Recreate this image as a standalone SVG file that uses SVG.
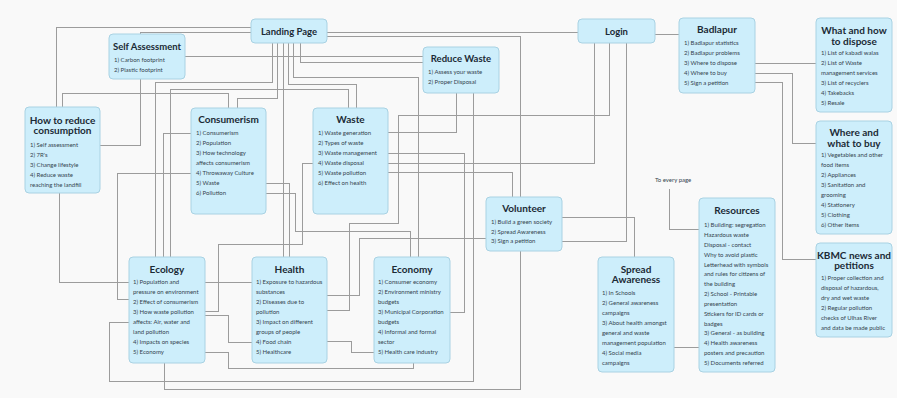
<svg xmlns="http://www.w3.org/2000/svg" width="897" height="398" viewBox="0 0 897 398">
<style>
.bg{fill:#f9f9f9}
.box{fill:#cdeefb;stroke:#a9d2e3;stroke-width:1}
.t{font-family:Lato,"Open Sans",sans-serif;font-weight:700;fill:#1b2a35;text-anchor:middle}
.s{font-size:9.5px}
.b{font-size:10px}
.i{font-family:Lato,"Open Sans",sans-serif;font-size:6px;fill:#34444f}
.c path{fill:none;stroke:#9c9c9c;stroke-width:1;shape-rendering:crispEdges}
</style>
<rect class="bg" x="0" y="0" width="897" height="398"/>
<g class="c" id="connectors">
<path d="M56,107 V27 H251"/>
<path d="M140,34 V32 H251"/>
<path d="M327,32 H578"/>
<path d="M327,36 H520 V197"/>
<path d="M185,56 H423"/>
<path d="M300,43 V62 H423"/>
<path d="M140,79 V145 H100"/>
<path d="M62,107 V93 H228 V108"/>
<path d="M277,43 V98 H237 V108"/>
<path d="M272,43 V82 H155 V257"/>
<path d="M191,133 H163 V257"/>
<path d="M348,108 V89 H170 V257"/>
<path d="M191,173 H117 V299 H129"/>
<path d="M59,193 V282 H129"/>
<path d="M288,43 V84 H356 V108"/>
<path d="M293,43 V77 H418 V257"/>
<path d="M283,43 V257"/>
<path d="M266,183 H289 V257"/>
<path d="M266,193 H295 V231 H410 V257"/>
<path d="M313,163 H302 V244 H218 V311 H205"/>
<path d="M456,93 V132 H388"/>
<path d="M473,93 V381 H109 V322 H129"/>
<path d="M388,153 H464 V312 H450"/>
<path d="M594,43 V163 H388"/>
<path d="M388,172 H512 V197"/>
<path d="M327,295 H359 V238 H486"/>
<path d="M327,310 H349 V223 H398 V115 H609 V43"/>
<path d="M327,341 H351 V352 H374"/>
<path d="M205,282 H252"/>
<path d="M205,315 H228 V342 H252"/>
<path d="M205,352 H228 V368 H413 V363"/>
<path d="M164,363 V389 H520 V251"/>
<path d="M562,217 H634 V257"/>
<path d="M626,43 V241 H562"/>
<path d="M655,34 H679"/>
<path d="M755,63 H816"/>
<path d="M755,73 H792 V143 H816"/>
<path d="M755,82 H782 V259 H816"/>
<path d="M669,189 V229 H699"/>
<path d="M674,347 H699"/>
</g>
<text class="i" x="655" y="182">To every page</text>
<g id="landing"><rect class="box" x="251" y="19" width="76" height="24" rx="4"/><text class="t s" x="289" y="34.5">Landing Page</text></g>
<g id="login"><rect class="box" x="578" y="19" width="77" height="24" rx="4"/><text class="t s" x="616.5" y="34.5">Login</text></g>
<g id="selfassessment"><rect class="box" x="109" y="34" width="76" height="45" rx="4"/><text class="t s" x="147" y="50">Self Assessment</text>
<text class="i" x="114" y="62">1) Carbon footprint</text><text class="i" x="114" y="72">2) Plastic footprint</text></g>
<g id="reducewaste"><rect class="box" x="423" y="47" width="76" height="46" rx="4"/><text class="t s" x="461" y="62">Reduce Waste</text>
<text class="i" x="428" y="74">1) Assess your waste</text><text class="i" x="428" y="84">2) Proper Disposal</text></g>
<g id="badlapur"><rect class="box" x="679" y="18" width="76" height="75" rx="4"/><text class="t b" x="717" y="33">Badlapur</text>
<text class="i" x="684" y="45">1) Badlapur statistics</text><text class="i" x="684" y="55">2) Badlapur problems</text><text class="i" x="684" y="65">3) Where to dispose</text><text class="i" x="684" y="75">4) Where to buy</text><text class="i" x="684" y="85">5) Sign a petition</text></g>
<g id="dispose"><rect class="box" x="816" y="18" width="76" height="94" rx="4"/><text class="t b" x="854" y="33.5">What and how</text><text class="t b" x="854" y="44.5">to dispose</text>
<text class="i" x="821" y="55">1) List of kabadi walas</text><text class="i" x="821" y="65">2) List of Waste</text><text class="i" x="821" y="75">management services</text><text class="i" x="821" y="85">3) List of recyclers</text><text class="i" x="821" y="95">4) Takebacks</text><text class="i" x="821" y="105">5) Resale</text></g>
<g id="buy"><rect class="box" x="816" y="121" width="76" height="113" rx="4"/><text class="t b" x="854" y="135.5">Where and</text><text class="t b" x="854" y="146.5">what to buy</text>
<text class="i" x="821" y="157">1) Vegetables and other</text><text class="i" x="821" y="167">food items</text><text class="i" x="821" y="177">2) Appliances</text><text class="i" x="821" y="187">3) Sanitation and</text><text class="i" x="821" y="197">grooming</text><text class="i" x="821" y="207">4) Stationery</text><text class="i" x="821" y="217">5) Clothing</text><text class="i" x="821" y="227">6) Other Items</text></g>
<g id="kbmc"><rect class="box" x="816" y="243" width="76" height="94" rx="4"/><text class="t b" x="854" y="258.5">KBMC news and</text><text class="t b" x="854" y="269">petitions</text>
<text class="i" x="821" y="280">1) Proper collection and</text><text class="i" x="821" y="290">disposal of hazardous,</text><text class="i" x="821" y="300">dry and wet waste</text><text class="i" x="821" y="310">2) Regular pollution</text><text class="i" x="821" y="320">checks of Ulhas River</text><text class="i" x="821" y="330">and data be made public</text></g>
<g id="howtoreduce"><rect class="box" x="25" y="107" width="75" height="86" rx="4"/><text class="t b" x="62.5" y="123.5">How to reduce</text><text class="t b" x="62.5" y="134">consumption</text>
<text class="i" x="30" y="147">1) Self assessment</text><text class="i" x="30" y="157">2) 7R's</text><text class="i" x="30" y="167">3) Change lifestyle</text><text class="i" x="30" y="177">4) Reduce waste</text><text class="i" x="30" y="187">reaching the landfill</text></g>
<g id="consumerism"><rect class="box" x="191" y="108" width="75" height="106" rx="4"/><text class="t b" x="228.5" y="122.5">Consumerism</text>
<text class="i" x="196" y="135">1) Consumerism</text><text class="i" x="196" y="145">2) Population</text><text class="i" x="196" y="155">3) How technology</text><text class="i" x="196" y="165">affects consumerism</text><text class="i" x="196" y="175">4) Throwaway Culture</text><text class="i" x="196" y="185">5) Waste</text><text class="i" x="196" y="195">6) Pollution</text></g>
<g id="waste"><rect class="box" x="313" y="108" width="75" height="106" rx="4"/><text class="t b" x="350.5" y="122.5">Waste</text>
<text class="i" x="318" y="135">1) Waste generation</text><text class="i" x="318" y="145">2) Types of waste</text><text class="i" x="318" y="155">3) Waste management</text><text class="i" x="318" y="165">4) Waste disposal</text><text class="i" x="318" y="175">5) Waste pollution</text><text class="i" x="318" y="185">6) Effect on health</text></g>
<g id="volunteer"><rect class="box" x="486" y="197" width="76" height="54" rx="4"/><text class="t b" x="524" y="211.5">Volunteer</text>
<text class="i" x="491" y="224">1) Build a green society</text><text class="i" x="491" y="234">2) Spread Awareness</text><text class="i" x="491" y="243">3) Sign a petition</text></g>
<g id="ecology"><rect class="box" x="129" y="257" width="76" height="106" rx="4"/><text class="t b" x="167" y="272.5">Ecology</text>
<text class="i" x="133" y="284">1) Population and</text><text class="i" x="133" y="294">pressure on environment</text><text class="i" x="133" y="304">2) Effect of consumerism</text><text class="i" x="133" y="314">3) How waste pollution</text><text class="i" x="133" y="324">affects: Air, water and</text><text class="i" x="133" y="334">land pollution</text><text class="i" x="133" y="344">4) Impacts on species</text><text class="i" x="133" y="354">5) Economy</text></g>
<g id="health"><rect class="box" x="252" y="257" width="75" height="106" rx="4"/><text class="t b" x="289.5" y="272.5">Health</text>
<text class="i" x="256" y="284">1) Exposure to hazardous</text><text class="i" x="256" y="294">substances</text><text class="i" x="256" y="304">2) Diseases due to</text><text class="i" x="256" y="314">pollution</text><text class="i" x="256" y="324">3) Impact on different</text><text class="i" x="256" y="334">groups of people</text><text class="i" x="256" y="344">4) Food chain</text><text class="i" x="256" y="354">5) Healthcare</text></g>
<g id="economy"><rect class="box" x="374" y="257" width="76" height="106" rx="4"/><text class="t b" x="412" y="272.5">Economy</text>
<text class="i" x="378" y="284">1) Consumer economy</text><text class="i" x="378" y="294">2) Environment ministry</text><text class="i" x="378" y="304">budgets</text><text class="i" x="378" y="314">3) Municipal Corporation</text><text class="i" x="378" y="324">budgets</text><text class="i" x="378" y="334">4) Informal and formal</text><text class="i" x="378" y="344">sector</text><text class="i" x="378" y="354">5) Health care industry</text></g>
<g id="spread"><rect class="box" x="598" y="257" width="76" height="115" rx="4"/><text class="t b" x="636" y="272.5">Spread</text><text class="t b" x="636" y="283">Awareness</text>
<text class="i" x="602" y="295">1) In Schools</text><text class="i" x="602" y="305">2) General awareness</text><text class="i" x="602" y="315">campaigns</text><text class="i" x="602" y="325">3) About health amongst</text><text class="i" x="602" y="335">general and waste</text><text class="i" x="602" y="345">management population</text><text class="i" x="602" y="355">4) Social media</text><text class="i" x="602" y="365">campaigns</text></g>
<g id="resources"><rect class="box" x="699" y="198" width="76" height="174" rx="4"/><text class="t b" x="737" y="214">Resources</text>
<text class="i" x="704" y="227">1) Building: segregation</text><text class="i" x="704" y="237">Hazardous waste</text><text class="i" x="704" y="247">Disposal - contact</text><text class="i" x="704" y="256.5">Why to avoid plastic</text><text class="i" x="704" y="266.5">Letterhead with symbols</text><text class="i" x="704" y="276">and rules for citizens of</text><text class="i" x="704" y="286">the building</text><text class="i" x="704" y="296">2) School - Printable</text><text class="i" x="704" y="306">presentation</text><text class="i" x="704" y="315.5">Stickers for ID cards or</text><text class="i" x="704" y="325.5">badges</text><text class="i" x="704" y="335">3) General - as building</text><text class="i" x="704" y="345">4) Health awareness</text><text class="i" x="704" y="355">posters and precaution</text><text class="i" x="704" y="365">5) Documents referred</text></g>
</svg>
